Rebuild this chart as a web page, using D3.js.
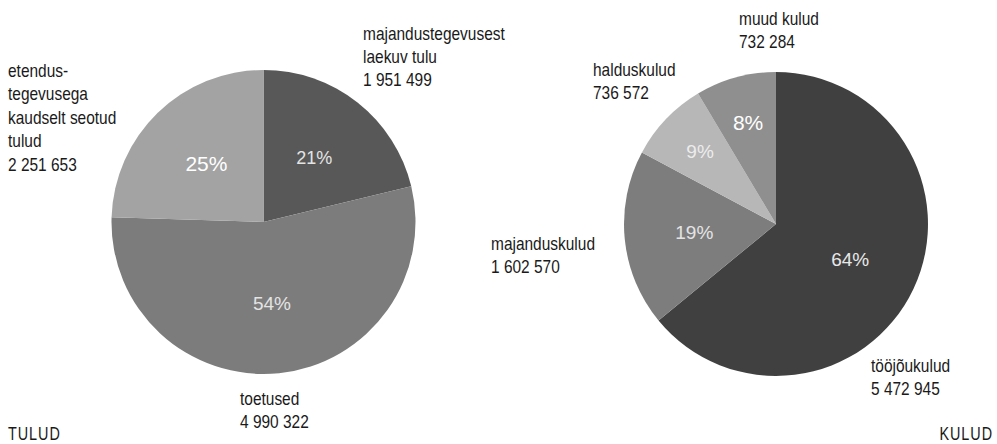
<!DOCTYPE html>
<html><head><meta charset="utf-8">
<script src="https://cdn.jsdelivr.net/npm/d3@7"></script>
<style>
html,body{margin:0;padding:0;background:#fff;}
svg{display:block;}
.lbl{font-family:"Liberation Sans",Arial,sans-serif;font-size:18px;fill:#1a1a1a;}
.pct{font-family:"Liberation Sans",Arial,Helvetica,sans-serif;}
</style></head>
<body>
<svg id="c" width="997" height="444"></svg>
<script>
// ---- data ----
const incomeNames = [["majandustegevusest","laekuv tulu"],["toetused"],["etendus-","tegevusega","kaudselt seotud","tulud"]];
const incomeValues = [1951499, 4990322, 2251653];
const incomePct = ["21%","54%","25%"];
const expenseNames = [["tööjõukulud"],["majanduskulud"],["halduskulud"],["muud kulud"]];
const expenseValues = [5472945, 1602570, 736572, 732284];
const expensePct = ["64%","19%","9%","8%"];
const titles = ["TULUD","KULUD"];

// ---- styles / layout ----
const incomeColors = ["#585858","#7c7c7c","#a3a3a3"];
const expenseColors = ["#414141","#7d7d7d","#b7b7b7","#8f8f8f"];
const incomePctStyle = [{size:18,fill:"#e4e4e4"},{size:19,fill:"#e4e4e4"},{size:21,fill:"#ffffff"}];
const expensePctStyle = [{size:19,fill:"#e8e8e8"},{size:19,fill:"#e4e4e4"},{size:19,fill:"#ececec"},{size:21,fill:"#ffffff"}];
const incomeLabelPos = [[363,39.5],[240,405],[8,77]];
const expenseLabelPos = [[871,372],[491,250],[593,76],[739,25]];
const lineH = 23.4;
const narrow = 0.86;

const svg = d3.select("#c");
const defs = svg.append("defs");
defs.append("filter").attr("id","soft").attr("x","-5%").attr("y","-5%").attr("width","110%").attr("height","110%")
  .append("feGaussianBlur").attr("stdDeviation",0.7);

const fmt = v => d3.format(",")(v).replace(/,/g," ");

function drawPie(cx, cy, r, values, colors, pcts, pctStyles, names, labelPos){
  const pie = d3.pie().sort(null).value(d=>d)(values);
  const total = d3.sum(values);
  const arc = d3.arc().innerRadius(0).outerRadius(r);
  const g = svg.append("g").attr("transform",`translate(${cx},${cy})`);
  g.append("g").attr("filter","url(#soft)")
    .selectAll("path").data(pie).join("path")
    .attr("d",arc).attr("fill",(d,i)=>colors[i]);
  g.selectAll("text.pct").data(pie).join("text")
    .attr("class","pct")
    .attr("transform",d=>{
      const frac = d.value/total < 0.1 ? 0.69 : 0.54;
      const la = d3.arc().innerRadius(r*frac).outerRadius(r*frac);
      const [x,y] = la.centroid(d);
      return `translate(${x},${y})`;
    })
    .attr("text-anchor","middle").attr("dy","0.36em")
    .attr("font-size",(d,i)=>pctStyles[i].size+"px")
    .attr("fill",(d,i)=>pctStyles[i].fill)
    .text((d,i)=>pcts[i]);
  names.forEach((lines,i)=>{
    const t = svg.append("g").attr("transform",`translate(${labelPos[i][0]},${labelPos[i][1]}) scale(${narrow},1)`)
      .append("text").attr("class","lbl");
    const all = lines.concat([fmt(values[i])]);
    all.forEach((ln,k)=>{
      t.append("tspan").attr("x",0).attr("y",k*lineH).text(ln);
    });
  });
}

drawPie(263.5, 222, 152, incomeValues, incomeColors, incomePct, incomePctStyle, incomeNames, incomeLabelPos);
drawPie(776, 224, 152, expenseValues, expenseColors, expensePct, expensePctStyle, expenseNames, expenseLabelPos);

svg.append("g").attr("transform",`translate(8,440) scale(0.8,1)`)
  .append("text").attr("class","lbl").attr("font-size","17px").attr("letter-spacing","1.2px").text(titles[0]);
svg.append("g").attr("transform",`translate(993,440) scale(0.8,1)`)
  .append("text").attr("class","lbl").attr("font-size","17px").attr("text-anchor","end").attr("letter-spacing","1.2px").text(titles[1]);
</script>
</body></html>
